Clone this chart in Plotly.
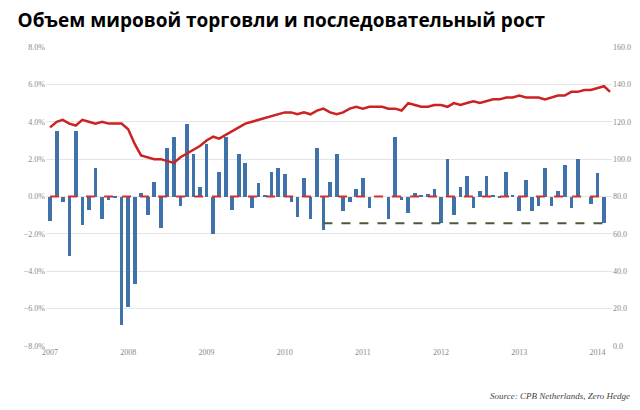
import pandas as pd
import plotly.graph_objects as go

# monthly change in world trade volume, % (left axis), Jan 2007 - Feb 2014
bar_months = pd.date_range("2007-01-01", periods=86, freq="MS")
bar_values = [
    -1.3, 3.5, -0.3, -3.2, 3.5, -1.5, -0.7, 1.5, -1.2, -0.2, -0.1, -6.9,
    -5.9, -4.7, 0.2, -1.0, 0.8, -1.7, 2.6, 3.2, -0.5, 3.9, 2.3, 0.5,
    2.8, -2.0, 1.3, 3.2, -0.7, 2.3, 1.8, -0.6, 0.7, 0.1, 1.3, 1.5,
    1.2, -0.3, -1.1, 1.0, -1.2, 2.6, -1.8, 0.8, 2.3, -0.8, -0.3, 0.4,
    1.0, -0.6, 0.0, 0.0, -1.2, 3.2, -0.2, -0.9, 0.2, 0.1, 0.15, 0.4,
    -1.4, 2.0, -1.0, 0.5, 1.1, -0.6, 0.3, 1.1, 0.1, -0.1, 1.3, 0.1,
    -0.8, 0.9, -0.8, -0.5, 1.5, -0.5, 0.3, 1.7, -0.6, 2.0, 0.0, -0.4,
    1.25, -1.4,
]

# world trade volume index (right axis)
line_months = pd.date_range("2007-01-01", periods=87, freq="MS")
line_values = [
    117, 120, 121, 119, 118, 121, 120, 119, 120, 119, 119, 119,
    116, 108, 102, 101, 100, 100, 99, 98, 101, 103, 105, 107,
    110, 112, 111, 113, 115, 117, 119, 120, 121, 122, 123, 124,
    125, 125, 124, 125, 124, 126, 127, 125, 124, 125, 127, 128,
    127, 128, 128, 128, 127, 127, 126, 130, 129, 128, 128, 129,
    129, 128, 130, 129, 130, 131, 130, 131, 132, 132, 133, 133,
    134, 133, 133, 133, 132, 133, 134, 134, 136, 136, 137, 137,
    138, 139, 136,
]

zero_dates = ["2007-01-01", "2014-02-15"]
zero_values = [0, 0]
floor_dates = ["2010-07-01", "2014-02-01"]
floor_values = [-1.43, -1.43]

fig = go.Figure()
fig.add_trace(go.Bar(x=bar_months, y=bar_values, marker_color="#3f72a8",
                     marker_line_width=0, width=1000 * 3600 * 24 * 17))
fig.add_trace(go.Scatter(x=zero_dates, y=zero_values, mode="lines",
                         line=dict(color="#d0312d", width=2, dash="dash")))
fig.add_trace(go.Scatter(x=floor_dates, y=floor_values, mode="lines",
                         line=dict(color="#4a5a3a", width=2, dash="dash")))
fig.add_trace(go.Scatter(x=line_months, y=line_values, mode="lines", yaxis="y2",
                         line=dict(color="#cc2222", width=2.5)))

tick = dict(size=8, color="#888", family="Liberation Serif")
fig.update_layout(
    width=640, height=410, showlegend=False,
    plot_bgcolor="white", paper_bgcolor="white",
    margin=dict(l=38, r=36, t=39, b=72),
    bargap=0,
    xaxis=dict(range=["2006-12-13", "2014-03-10"], dtick="M12", tickformat="%Y",
               showgrid=False, tickfont=tick, ticks=""),
    yaxis=dict(range=[-8, 8], dtick=2, tickformat=".1f", ticksuffix="%",
               gridcolor="#e4e4e4", zeroline=False, tickfont=tick),
    yaxis2=dict(range=[0, 160], dtick=20, tickformat=".1f", overlaying="y",
                side="right", showgrid=False, zeroline=False, tickfont=tick),
    title=dict(text="<b>Объем мировой торговли и последовательный рост</b>",
               x=0.015, y=0.985, yanchor="top",
               font=dict(size=19, color="black", family="Open Sans")),
    annotations=[dict(text="<i>Source: CPB Netherlands, Zero Hedge</i>",
                      xref="paper", yref="paper", x=1.035, y=-0.19,
                      xanchor="right", showarrow=False,
                      font=dict(size=9, color="#444", family="Liberation Serif"))],
)

fig.write_html("out.html")
